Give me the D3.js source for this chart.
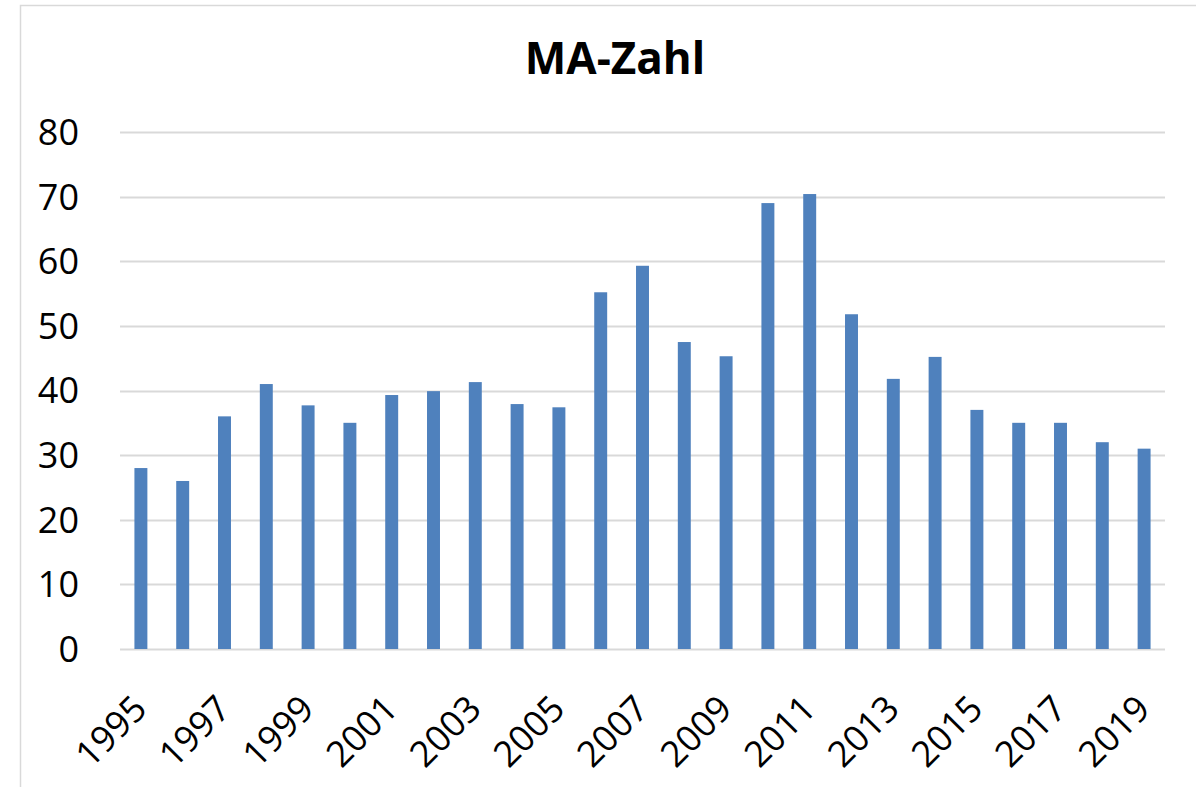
<!DOCTYPE html>
<html>
<head>
<meta charset="utf-8">
<script src="https://cdn.jsdelivr.net/npm/d3@7"></script>
<style>
  body { margin: 0; background: #fff; }
  svg text { font-family: "Open Sans", "Noto Sans", sans-serif; fill: #000; }
</style>
</head>
<body>
<svg id="chart" width="1196" height="787"></svg>
<script>
// ======== Data ========
var years = ['1995', '1996', '1997', '1998', '1999', '2000', '2001', '2002', '2003', '2004',
    '2005', '2006', '2007', '2008', '2009', '2010', '2011', '2012', '2013', '2014',
    '2015', '2016', '2017', '2018', '2019'];
var ma_zahl = [28, 26, 36, 41, 37.7, 35, 39.3, 39.9, 41.3, 37.9,
    37.4, 55.2, 59.3, 47.5, 45.3, 69, 70.4, 51.8, 41.8, 45.2,
    37, 35, 35, 32, 31];
var y_ticks = [0, 10, 20, 30, 40, 50, 60, 70, 80];
var title = 'MA-Zahl';

var svg = d3.select('#chart');

// chart area border (only top and left visible in the picture)
svg.append('rect')
    .attr('x', 20.5)
    .attr('y', 5.5)
    .attr('width', 1200)
    .attr('height', 800)
    .attr('fill', 'none')
    .attr('stroke', '#d9d9d9')
    .attr('stroke-width', 1.5);

var x_scale = d3.scaleBand()
    .domain(years)
    .range([120, 1165])
    .paddingInner(0.69)
    .paddingOuter(0.345);

var y_scale = d3.scaleLinear()
    .domain([0, 80])
    .range([649, 132]);

// gridlines
svg.append('g')
    .selectAll('line')
    .data(y_ticks)
    .enter()
    .append('line')
    .attr('x1', 120)
    .attr('x2', 1165)
    .attr('y1', function (d) { return Math.round(y_scale(d)) + 0.5; })
    .attr('y2', function (d) { return Math.round(y_scale(d)) + 0.5; })
    .attr('stroke', '#d9d9d9')
    .attr('stroke-width', 1.8);

// y labels
svg.append('g')
    .selectAll('text')
    .data(y_ticks)
    .enter()
    .append('text')
    .attr('x', 79)
    .attr('y', function (d) { return y_scale(d); })
    .attr('dy', '0.36em')
    .attr('text-anchor', 'end')
    .style('font-size', '36px')
    .text(function (d) { return d; });

// bars
svg.append('g')
    .selectAll('rect')
    .data(ma_zahl)
    .enter()
    .append('rect')
    .attr('x', function (d, i) { return x_scale(years[i]); })
    .attr('width', x_scale.bandwidth())
    .attr('y', function (d) { return y_scale(d); })
    .attr('height', function (d) { return y_scale(0) - y_scale(d); })
    .attr('fill', '#4f81bd');

// x labels, every second year
svg.append('g')
    .selectAll('text')
    .data(years.filter(function (d, i) { return i % 2 === 0; }))
    .enter()
    .append('text')
    .attr('transform', function (d) {
        var cx = x_scale(d) + x_scale.bandwidth() / 2;
        return 'translate(' + (cx + 8) + ',711) rotate(-45)';
    })
    .attr('text-anchor', 'end')
    .style('font-size', '36px')
    .text(function (d) { return d; });

// title
svg.append('text')
    .attr('x', 615)
    .attr('y', 74)
    .attr('text-anchor', 'middle')
    .style('font-size', '44px')
    .style('font-weight', 'bold')
    .text(title);
</script>
</body>
</html>
